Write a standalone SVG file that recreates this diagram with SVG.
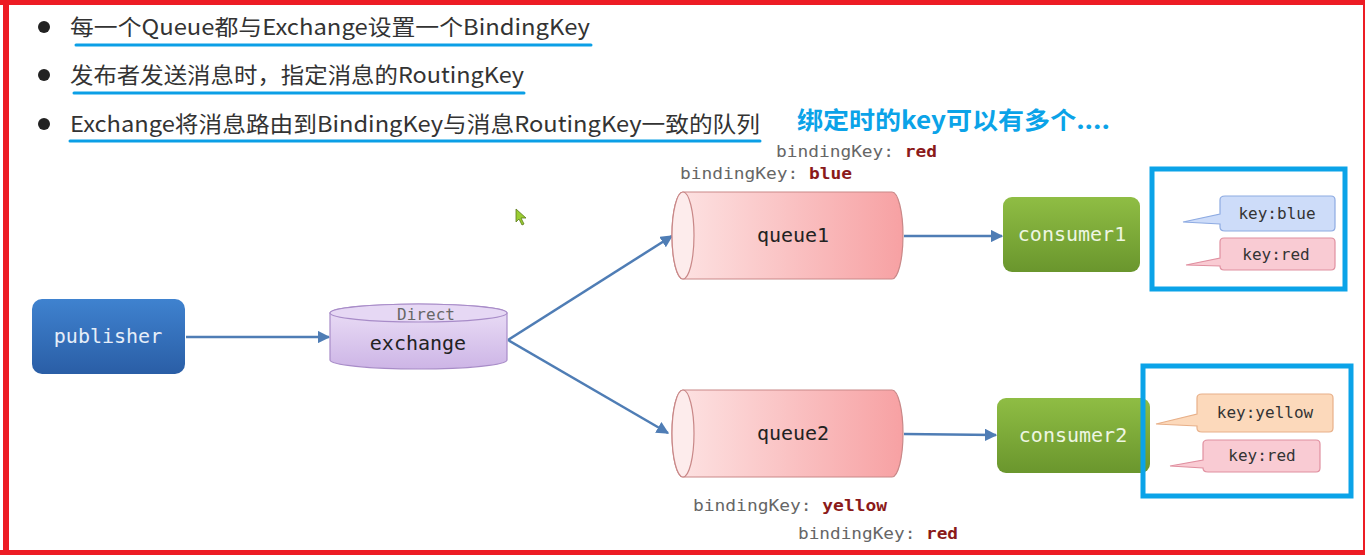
<svg xmlns="http://www.w3.org/2000/svg" width="1365" height="555" viewBox="0 0 1365 555">
<style>
.bul{font-family:"Noto Sans CJK SC","Noto Sans",sans-serif;font-size:22px;fill:#333}
.ul{stroke:#0b9fe6;stroke-width:3;stroke-linecap:round}
.mono{font-family:"DejaVu Sans Mono","Liberation Mono",monospace}
.bk{font-size:16px;fill:#666}
.bv{fill:#8b1a1a;font-weight:bold}
.conn{stroke:#4f7db5;stroke-width:2.5;fill:none}
.nodetxt{font-size:20px;text-anchor:middle}
.key{font-size:16px;fill:#333;text-anchor:middle}
.hl{fill:none;stroke:#0ba3e8;stroke-width:5}
.frame{fill:#ed1c24}
</style>
<defs>
<marker id="arr" viewBox="0 0 10 10" refX="9" refY="5" markerWidth="5" markerHeight="5" orient="auto">
<path d="M0,0 L10,5 L0,10 z" fill="#4f7db5"/>
</marker>
<linearGradient id="gPub" x1="0" y1="0" x2="0" y2="1"><stop offset="0" stop-color="#3f82cf"/><stop offset="1" stop-color="#2a5ea6"/></linearGradient>
<linearGradient id="gCon" x1="0" y1="0" x2="0" y2="1"><stop offset="0" stop-color="#8fbd44"/><stop offset="1" stop-color="#6a962d"/></linearGradient>
<linearGradient id="gEx" x1="0" y1="0" x2="0" y2="1"><stop offset="0" stop-color="#ece0f7"/><stop offset="1" stop-color="#cdb5e6"/></linearGradient>
<linearGradient id="gQ" x1="0" y1="0" x2="1" y2="0"><stop offset="0" stop-color="#fde4e4"/><stop offset="1" stop-color="#f7a1a3"/></linearGradient>
</defs>
<rect x="0" y="0" width="1365" height="555" fill="#fff"/>
<!-- red frame -->
<g id="frame">
<rect class="frame" x="0" y="0" width="1365" height="5"/>
<rect class="frame" x="3" y="0" width="6" height="555"/>
<rect class="frame" x="0" y="550" width="1365" height="5"/>
<rect class="frame" x="1363" y="0" width="2" height="555"/>
</g>

<!-- bullets -->
<g id="bullets">
<circle cx="44" cy="27" r="6" fill="#222"/>
<circle cx="44" cy="75" r="6" fill="#222"/>
<circle cx="44" cy="124" r="6" fill="#222"/>
<text class="bul" x="70" y="35" textLength="520" lengthAdjust="spacingAndGlyphs">每一个Queue都与Exchange设置一个BindingKey</text>
<text class="bul" x="70" y="83" textLength="454" lengthAdjust="spacingAndGlyphs">发布者发送消息时，指定消息的RoutingKey</text>
<text class="bul" x="70" y="132" textLength="690" lengthAdjust="spacingAndGlyphs">Exchange将消息路由到BindingKey与消息RoutingKey一致的队列</text>
<line class="ul" x1="76" y1="45" x2="591" y2="45"/>
<line class="ul" x1="74" y1="93" x2="524" y2="93"/>
<line class="ul" x1="70" y1="141" x2="760" y2="141"/>
<text x="797" y="129" font-family="Noto Sans CJK SC,Noto Sans,sans-serif" font-size="24" font-weight="bold" fill="#0ba3e8" textLength="313" lengthAdjust="spacingAndGlyphs">绑定时的key可以有多个....</text>
</g>

<!-- binding key labels -->
<g id="labels" class="mono">
<text class="bk" x="776" y="157" textLength="161" lengthAdjust="spacingAndGlyphs">bindingKey: <tspan class="bv">red</tspan></text>
<text class="bk" x="680" y="179" textLength="172" lengthAdjust="spacingAndGlyphs">bindingKey: <tspan class="bv">blue</tspan></text>
<text class="bk" x="693" y="511" textLength="194" lengthAdjust="spacingAndGlyphs">bindingKey: <tspan class="bv">yellow</tspan></text>
<text class="bk" x="798" y="539" textLength="160" lengthAdjust="spacingAndGlyphs">bindingKey: <tspan class="bv">red</tspan></text>
</g>

<!-- connectors -->
<g id="connectors">
<line class="conn" x1="186" y1="337" x2="329" y2="337" marker-end="url(#arr)"/>
<line class="conn" x1="508" y1="340" x2="672" y2="236" marker-end="url(#arr)"/>
<line class="conn" x1="508" y1="340" x2="668" y2="433" marker-end="url(#arr)"/>
<line class="conn" x1="904" y1="236" x2="1002" y2="236" marker-end="url(#arr)"/>
<line class="conn" x1="904" y1="434" x2="996" y2="435" marker-end="url(#arr)"/>
</g>

<g id="publisher">
<rect x="32" y="299" width="153" height="75" rx="10" fill="url(#gPub)"/>
<text class="mono nodetxt" x="108" y="343" fill="#e6eef9">publisher</text>
</g>

<g id="exchange">
<path d="M330,313 L330,360 A88.5,9 0 0 0 507,360 L507,313 A88.5,9 0 0 0 330,313 Z" fill="url(#gEx)" stroke="#a88cc8" stroke-width="1.2"/>
<ellipse cx="418.5" cy="313" rx="88.5" ry="9" fill="#e6d8f4" stroke="#a88cc8" stroke-width="1.2"/>
<text class="mono" x="426" y="320" font-size="16" fill="#666" text-anchor="middle">Direct</text>
<text class="mono nodetxt" x="418" y="350" fill="#222">exchange</text>
</g>

<g id="queue1">
<path d="M683,192 L892,192 A11,43.5 0 0 1 892,279 L683,279 A11,43.5 0 0 1 683,192 Z" fill="url(#gQ)" stroke="#c98888" stroke-width="1.2"/>
<ellipse cx="683" cy="235.5" rx="11" ry="43.5" fill="#fdecec" stroke="#c98888" stroke-width="1.2"/>
<text class="mono nodetxt" x="793" y="242" fill="#222">queue1</text>
</g>

<g id="queue2">
<path d="M683,390 L892,390 A11,43.5 0 0 1 892,477 L683,477 A11,43.5 0 0 1 683,390 Z" fill="url(#gQ)" stroke="#c98888" stroke-width="1.2"/>
<ellipse cx="683" cy="433.5" rx="11" ry="43.5" fill="#fdecec" stroke="#c98888" stroke-width="1.2"/>
<text class="mono nodetxt" x="793" y="440" fill="#222">queue2</text>
</g>

<g id="consumer1">
<rect x="1003" y="197" width="137" height="75" rx="9" fill="url(#gCon)"/>
<text class="mono nodetxt" x="1072" y="241" fill="#eef6e2">consumer1</text>
</g>

<g id="consumer2">
<rect x="997" y="398" width="153" height="75" rx="9" fill="url(#gCon)"/>
<text class="mono nodetxt" x="1073" y="442" fill="#eef6e2">consumer2</text>
</g>

<g id="keys1">
<rect class="hl" x="1152" y="169" width="193" height="120"/>
<path d="M1225,196 L1331,196 Q1335,196 1335,200 L1335,227 Q1335,231 1331,231 L1225,231 Q1220,231 1220,227 L1220,224 L1183,222 L1220,214 L1220,200 Q1220,196 1225,196 Z" fill="#cddcf9" stroke="#8eabe2" stroke-width="1.2"/>
<text class="mono key" x="1277" y="219">key:blue</text>
<path d="M1224,238 L1331,238 Q1335,238 1335,242 L1335,266 Q1335,270 1331,270 L1224,270 Q1220,270 1220,266 L1220,266 L1186,265 L1220,258 L1220,242 Q1220,238 1224,238 Z" fill="#f9cbd3" stroke="#e090a0" stroke-width="1.2"/>
<text class="mono key" x="1276" y="260">key:red</text>
</g>

<g id="keys2">
<rect class="hl" x="1143" y="366" width="208" height="130"/>
<path d="M1202,394 L1329,394 Q1333,394 1333,398 L1333,428 Q1333,432 1329,432 L1202,432 Q1197,432 1197,428 L1197,426 L1156,424 L1197,414 L1197,398 Q1197,394 1202,394 Z" fill="#fcd9bb" stroke="#e8b089" stroke-width="1.2"/>
<text class="mono key" x="1265" y="418">key:yellow</text>
<path d="M1208,440 L1316,440 Q1320,440 1320,444 L1320,468 Q1320,472 1316,472 L1208,472 Q1203,472 1203,468 L1203,468 L1170,466 L1203,460 L1203,444 Q1203,440 1208,440 Z" fill="#f9cbd3" stroke="#e090a0" stroke-width="1.2"/>
<text class="mono key" x="1262" y="461">key:red</text>
</g>

<path d="M516,209 L516,222 L519,219 L522,225 L524,224 L521,218 L526,218 Z" fill="#9acd32" stroke="#5a7a1a" stroke-width="0.8"/>
</svg>
